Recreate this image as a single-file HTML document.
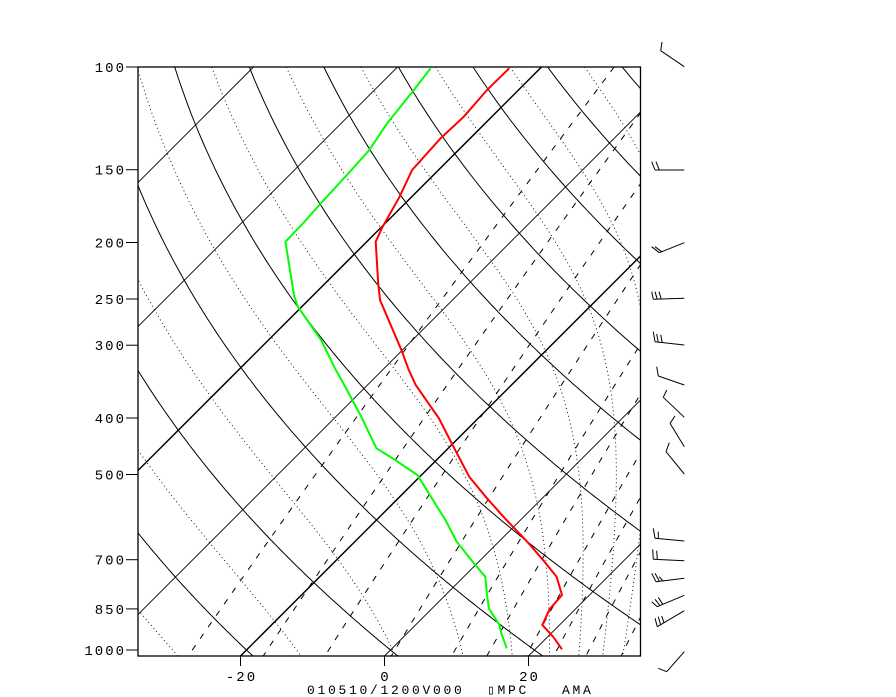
<!DOCTYPE html>
<html><head><meta charset="utf-8">
<style>
html,body{margin:0;padding:0;background:#fff;}
svg{display:block;}
text{font-family:"Liberation Mono","DejaVu Sans Mono",monospace;font-size:14px;fill:#000;letter-spacing:2px;}
</style></head>
<body>
<svg id="s" width="896" height="697" viewBox="0 0 896 697" xmlns="http://www.w3.org/2000/svg">
<defs><clipPath id="c"><rect x="138" y="67" width="502.5" height="589"/></clipPath></defs>
<g id="bg" clip-path="url(#c)"></g>
<rect x="138" y="67" width="502.5" height="589" fill="none" stroke="#000" stroke-width="1.3"/>
<g id="fg"></g>
<g id="lab"></g>
<text x="307" y="694" style="font-size:13px;letter-spacing:2.7px">010510/1200V000</text>
<text x="487" y="694" style="font-size:13px;letter-spacing:2.7px">▯MPC</text>
<text x="562" y="694" style="font-size:13px;letter-spacing:2.7px">AMA</text>
</svg>
<script>
var NS="http://www.w3.org/2000/svg";
function Y(p){return 67+583*Math.log10(p/100);}
function X(T,y){return 384.5+7.2*T+(656-y);}
function path(g,pts,attrs){var e=document.createElementNS(NS,"path");var d="";for(var i=0;i<pts.length;i++){d+=(i?"L":"M")+pts[i][0].toFixed(1)+" "+pts[i][1].toFixed(1);}e.setAttribute("d",d);e.setAttribute("fill","none");for(var k in attrs)e.setAttribute(k,attrs[k]);g.appendChild(e);}
var bg=document.getElementById("bg"),fg=document.getElementById("fg"),lab=document.getElementById("lab");
var ps=[];for(var p=100;p<=1030;p+=5)ps.push(p);
for(var T=-140;T<=40;T+=20){var w=(T==-20||T==-60)?1.5:0.9;path(bg,[[X(T,656),656],[X(T,67),67]],{stroke:"#000","stroke-width":w});}
for(var th=-40;th<=260;th+=20){var pts=[];ps.forEach(function(p){var t=(th+273.15)*Math.pow(p/1000,0.2857)-273.15;var y=Y(p);pts.push([X(t,y),y]);});path(bg,pts,{stroke:"#000","stroke-width":1});}
function es(t){return 6.112*Math.exp(17.67*t/(t+243.5));}
for(var th=-30;th<=270;th+=20){var t=(th+273.15)/1.931-273.15;var pts=[];var p=100;var Rd=287,cp=1004,L=2.5e6,eps=0.622;
 while(p<=1030){var y=Y(p);pts.push([X(t,y),y]);var TK=t+273.15;var e=es(t);var rs=eps*e/(p-e);var dTdp=(Rd*TK+L*rs)/(p*(cp+L*L*rs*eps/(Rd*TK*TK)));var dp=2;
  t+=dTdp*dp;p+=dp;}
 path(bg,pts,{stroke:"#000","stroke-width":0.9,"stroke-dasharray":"1 3"});}
[0.4,1,2,4,7.2,10,14.2,18.1,23.8,31.9].forEach(function(w){var pts=[];ps.forEach(function(p){var e=w/1000*p/(0.622+w/1000);var a=Math.log(e/6.112);var t=243.5*a/(17.67-a);var y=Y(p);pts.push([X(t,y),y]);});path(bg,pts,{stroke:"#000","stroke-width":1,"stroke-dasharray":"6 8"});});
function cz(a,oy){return a.map(function(q){return [138+(q[0]-22)/2.802,oy+q[1]/3];});}
var red=cz([[1062,85],[1000,150],[935,230],[870,295],[790,390],[755,470],[705,565],[688,605],[695,730],[700,780],[760,930],[780,988]],40).concat(cz([[800,75],[865,175],[905,258],[950,350],[1000,415],[1050,475],[1115,548],[1155,598],[1195,650],[1210,705],[1175,748],[1155,795],[1185,830],[1210,868]],360));
var grn=cz([[842,85],[795,150],[720,250],[670,330],[620,390],[530,495],[480,555],[435,605],[460,770],[470,800],[535,900],[575,988]],40).concat(cz([[600,75],[650,175],[690,265],[740,298],[805,345],[885,483],[915,545],[965,612],[995,650],[1000,705],[1005,745],[1035,795],[1040,820],[1055,865]],360));
path(fg,red,{stroke:"#ff0000","stroke-width":2});
path(fg,grn,{stroke:"#00ff00","stroke-width":2});
var B=[[[684.3,66.7],[660.7,50.7],[662,42]],
[[684.3,170],[655,170],[651.7,161.7],[659.3,170],[656,161.7]],
[[684.3,242.7],[659.3,252.7],[651.7,246.7],[661.7,251.7],[655,246.7]],
[[684.3,298.3],[653.3,299.3],[651.7,291.7],[657.3,299.3],[655,291.7],[661.3,299.3],[659,291.7]],
[[684.3,345],[655,341.7],[653.3,331.7],[658.3,342.3],[656.7,334],[662.3,343],[660.7,334.7]],
[[684.3,385],[658.3,376],[656.7,366.7]],
[[684.3,417.3],[663.3,397.3],[666.7,390]],
[[684.3,446.7],[670,423.3],[675,416]],
[[684.3,474],[666,451.7],[669.3,442.7]],
[[684.3,541],[655,538.3],[653.3,528.3],[658.3,539],[658.3,531.7]],
[[684.3,560.7],[653.3,559.3],[652.7,549.3],[657.3,559.3],[656.7,550.7]],
[[684.3,578.3],[656,581.7],[651.7,573.3],[659.3,581],[655,573.3],[662.7,580.7],[659.3,576.7]],
[[684.3,595.3],[657.3,606.7],[651.7,601.7],[660,605.7],[655,599.3],[662.7,604.3],[658.3,597.3]],
[[684.3,610.7],[657.3,626.7],[655,618.3],[660.7,625],[658.3,616.7],[664,622.7],[661.7,616]],
[[684.3,651.7],[666.7,671.7],[658.3,668.3]]];
B.forEach(function(b){path(fg,[b[0],b[1]],{stroke:"#000","stroke-width":1});for(var i=1;i+1<b.length;i+=2){path(fg,[b[i],b[i+1]],{stroke:"#000","stroke-width":1});}});
[100,150,200,250,300,400,500,700,850,1000].forEach(function(p){var y=Y(p);path(lab,[[126,y],[138,y]],{stroke:"#000","stroke-width":1});var t=document.createElementNS(NS,"text");t.setAttribute("x",126);t.setAttribute("y",(y+5).toFixed(1));t.setAttribute("text-anchor","end");t.textContent=String(p);lab.appendChild(t);});
[[-20,"-20"],[0,"0"],[20,"20"]].forEach(function(a){var x=X(a[0],656);path(lab,[[x,656],[x,666]],{stroke:"#000","stroke-width":1});var t=document.createElementNS(NS,"text");t.setAttribute("x",(x+1).toFixed(1));t.setAttribute("y",681);t.setAttribute("text-anchor","middle");t.textContent=a[1];lab.appendChild(t);});
</script>
</body></html>
